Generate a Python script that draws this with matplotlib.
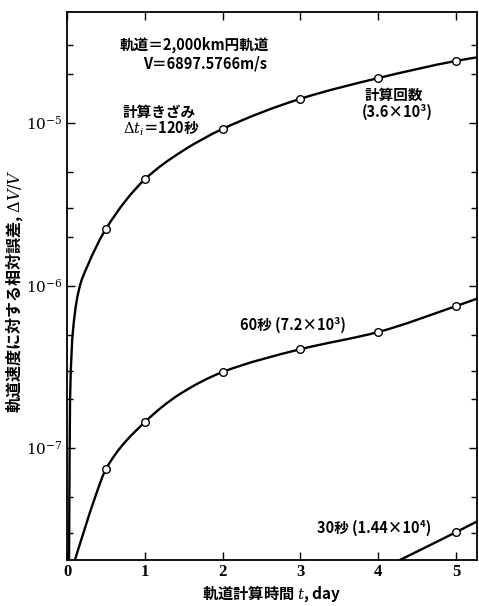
import numpy as np
import matplotlib
matplotlib.use("Agg")
import matplotlib.pyplot as plt
from matplotlib.path import Path
from matplotlib.patches import PathPatch
from matplotlib.ticker import LogLocator, FixedLocator, FuncFormatter

plt.rcParams['font.family'] = ['Noto Sans CJK JP', 'DejaVu Sans']
plt.rcParams['mathtext.fontset'] = 'dejavuserif'

# curves (day, dV/V)
t120 = [0.026, 0.039, 0.077, 0.167, 0.257, 0.5, 1.0, 1.5, 2.0, 3.0, 4.0, 5.0, 5.3]
e120 = [2.0e-8, 1.97e-7, 5.3e-7, 1.0e-6, 1.3e-6, 2.23e-6, 4.5e-6,
        6.8e-6, 9.2e-6, 1.41e-5, 1.89e-5, 2.41e-5, 2.55e-5]
t60 = [0.1, 0.21, 0.38, 0.5, 1.0, 1.45, 2.0, 3.0, 4.0, 5.0, 5.3]
e60 = [2.04e-8, 3.0e-8, 5.3e-8, 7.43e-8, 1.445e-7, 2.15e-7, 2.94e-7, 4.06e-7,
       5.18e-7, 7.48e-7, 8.4e-7]
t30 = [4.27, 5.0, 5.3]
e30 = [2.04e-8, 3.04e-8, 3.6e-8]

# computed points (circles)
pt120_t = [0.5, 1, 2, 3, 4, 5]
pt120_e = [2.23e-6, 4.5e-6, 9.2e-6, 1.41e-5, 1.89e-5, 2.41e-5]
pt60_t = [0.5, 1, 2, 3, 4, 5]
pt60_e = [7.43e-8, 1.445e-7, 2.94e-7, 4.06e-7, 5.18e-7, 7.48e-7]
pt30_t = [5]
pt30_e = [3.04e-8]

x_ticks = [0, 1, 2, 3, 4, 5]
y_ticks = [1e-7, 1e-6, 1e-5]


def smooth_path(t, e):
    # monotone cubic (Fritsch-Carlson) through the read points, in (t, log e) space
    x = np.asarray(t, float)
    y = np.log10(e)
    h = np.diff(x)
    d = np.diff(y) / h
    m = np.zeros_like(x)
    m[0], m[-1] = d[0], d[-1]
    for i in range(1, len(x) - 1):
        if d[i - 1] * d[i] > 0:
            w1 = 2 * h[i] + h[i - 1]
            w2 = h[i] + 2 * h[i - 1]
            m[i] = (w1 + w2) / (w1 / d[i - 1] + w2 / d[i])
    verts = [(x[0], y[0])]
    codes = [Path.MOVETO]
    for i in range(len(x) - 1):
        verts += [(x[i] + h[i] / 3, y[i] + m[i] * h[i] / 3),
                  (x[i + 1] - h[i] / 3, y[i + 1] - m[i + 1] * h[i] / 3),
                  (x[i + 1], y[i + 1])]
        codes += [Path.CURVE4] * 3
    verts = np.array(verts)
    verts[:, 1] = 10 ** verts[:, 1]
    return Path(verts, codes)


fig = plt.figure(figsize=(4.79, 6.06), dpi=100)
ax = fig.add_axes([0.1399, 0.0759, 0.8559, 0.9043])

for t, e, pt, pe in [(t120, e120, pt120_t, pt120_e),
                     (t60, e60, pt60_t, pt60_e),
                     (t30, e30, pt30_t, pt30_e)]:
    ax.add_patch(PathPatch(smooth_path(t, e), fc='none', ec='black', lw=1.7))
    ax.plot(pt, pe, 'o', ms=5.5, mfc='white', mec='black', mew=1.0, zorder=3)

ax.set_yscale('log')
ax.set_xlim(0, 5.27)
ax.set_ylim(2.05e-8, 4.82e-5)

ax.xaxis.set_major_locator(FixedLocator(x_ticks))
ax.yaxis.set_major_locator(FixedLocator(y_ticks))
ax.yaxis.set_minor_locator(LogLocator(base=10, subs=[2, 3, 5]))
ax.yaxis.set_minor_formatter(FuncFormatter(lambda v, p: ''))
ax.yaxis.set_major_formatter(FuncFormatter(lambda v, p: r'$10^{%d}$' % round(np.log10(v))))
ax.tick_params(which='both', direction='in', top=True, right=True, width=1.0)
ax.tick_params(which='major', length=6, labelsize=12, pad=3)
ax.tick_params(axis='y', which='major', labelsize=11)
ax.tick_params(which='minor', length=4)
for lab in ax.get_xticklabels():
    lab.set_family('Liberation Serif')
    lab.set_weight('bold')
for sp in ax.spines.values():
    sp.set_linewidth(1.3)

ax.set_xlabel('軌道計算時間 $t$, day', fontsize=11, fontweight='bold', labelpad=2)
ax.set_ylabel('軌道速度に対する相対誤差, $\\Delta V/V$', fontsize=11.5,
              fontweight='bold', va='center')
ax.yaxis.set_label_coords(-0.128, 0.491)

fs = 10.5
kw = dict(fontsize=fs, va='center', fontweight='bold')
ax.text(0.68, 3.02e-5, '軌道＝2,000km円軌道', **kw)
ax.text(0.98, 2.34e-5, 'V＝6897.5766m/s', **kw)
ax.text(0.72, 1.17e-5, '計算きざみ', **kw)
ax.text(0.72, 9.2e-6, '$\\Delta t_i$＝120秒', **kw)
ax.text(3.83, 1.49e-5, '計算回数', **kw)
ax.text(3.79, 1.17e-5, '(3.6×10³)', **kw)
ax.text(2.22, 5.71e-7, '60秒 (7.2×10³)', **kw)
ax.text(3.21, 3.22e-8, '30秒 (1.44×10⁴)', **kw)

fig.savefig('out.png', dpi=100)
